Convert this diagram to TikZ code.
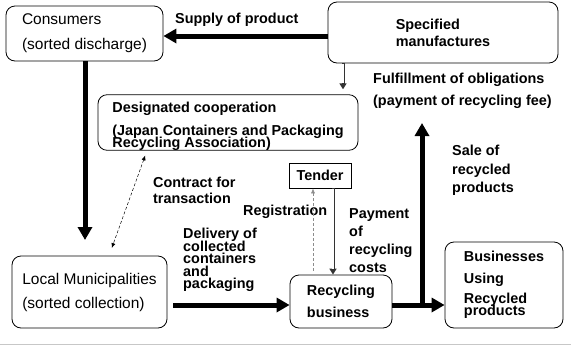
\documentclass[tikz,border=0pt]{standalone}
\usepackage{fontspec}
\setmainfont{Liberation Sans}
\usetikzlibrary{arrows.meta,calc}
\newcommand\mytightlines{\lineskiplimit=-30pt\relax}
\begin{document}
\begin{tikzpicture}[x=1pt,y=-1pt,
  box/.style={draw, rounded corners=9pt, line width=0.8pt, inner sep=0pt, align=left},
  reg/.style={font=\fontsize{15.5}{#1}\selectfont\mytightlines},
  bld/.style={font=\fontsize{14.4}{#1}\selectfont\bfseries\mytightlines},
  lbl/.style={bld=#1, align=left, inner sep=0pt, anchor=north west},
  thickarr/.style={line width=5pt, -{Triangle[length=13pt,width=14pt]}},
  dblout/.style={draw=black!80, line width=3pt, -{Triangle[length=6pt,width=7pt]}},
  dblin/.style={draw=white, line width=1.2pt},
  dasharr/.style={dashed, line width=0.5pt, dash pattern=on 3pt off 2pt},
  tipS/.style={-{Latex[length=5pt,width=4pt]}}
]
\useasboundingbox (0,0) rectangle (571,346);

% boxes
\node[box, reg=25, minimum width=157, minimum height=55] (cons) at (84.5,33.5) {Consumers\\(sorted discharge)};
\node[box, bld=17, minimum width=230, minimum height=61] (spec) at (443,32.5) {Specified\\manufactures};
\node[box, bld=12, minimum width=260, minimum height=55] (desig) at (228,122.5) {\rule{0pt}{17.5pt}Designated cooperation\\[11pt](Japan Containers and Packaging\\Recycling Association)};
\node[draw, line width=0.8pt, bld=17, inner sep=0pt, minimum width=62, minimum height=25] (tender) at (320,175.5) {Tender};
\node[box, reg=24, minimum width=155, minimum height=72] (local) at (89.5,292) {Local Municipalities\\(sorted collection)};
\node[box, bld=22, minimum width=102, minimum height=53] (rec) at (341,301.5) {Recycling\\business};
\node[box, bld=12, minimum width=118, minimum height=86] (bus) at (504,285) {Businesses\\[10pt]Using\\[8pt]Recycled\\products};

% labels
\node[lbl=17] (lsup) at (175,13) {Supply of product};
\node[lbl=22] (lful) at (373,73) {Fulfillment of obligations\\(payment of recycling fee)};
\node[lbl=16] (lcon) at (153,177) {Contract for\\transaction};
\node[lbl=17] (lreg) at (243,205) {Registration};
\node[lbl=18] (lpay) at (349,208) {Payment\\of\\recycling\\costs};
\node[lbl=12.5] (ldel) at (183,228) {Delivery of\\collected\\containers\\and\\packaging};
\node[lbl=18.5] (lsal) at (452,145) {Sale of\\recycled\\products};

% helper coordinates
\coordinate (supy) at (0,36);
\coordinate (c2l) at (85,240);
\coordinate (fx) at (343,0);
\coordinate (regx) at (313,0);
\coordinate (payx) at (333,0);
\coordinate (flowy) at (0,305);
\coordinate (saletip) at (422,123);
\coordinate (ctop) at (147,0);
\coordinate (cbot) at (109,0);

% connectors
\draw[thickarr] (spec.west |- supy) -- (cons.east |- supy);
\draw[thickarr] (cons.south -| c2l) -- (c2l);
\draw[dblout, shorten >=5pt] (spec.south -| fx) -- (desig.north -| fx);
\draw[dblin, shorten <=0.6pt, shorten >=11pt] (spec.south -| fx) -- (desig.north -| fx);
\draw[thickarr, shorten <=6pt] (local.east |- flowy) -- (rec.west |- flowy);
\draw[thickarr] (rec.east |- flowy) -- (bus.west |- flowy);
\draw[thickarr] ([yshift=2.5pt]saletip |- flowy) -- (saletip);
\draw[dasharr, tipS, draw=black!45, shorten <=4pt] (rec.north -| regx) -- (tender.south -| regx);
\draw[dblout] (tender.south -| payx) -- (rec.north -| payx);
\draw[dblin, shorten <=0.6pt, shorten >=6pt] (tender.south -| payx) -- (rec.north -| payx);
\draw[dasharr, {Latex[length=5pt,width=4pt]}-{Latex[length=5pt,width=4pt]}, shorten <=5pt, shorten >=8pt] (ctop |- desig.south) -- (cbot |- local.north);

% bottom rule
\draw[black!22, line width=1.5pt] (0,344.5) -- (571,344.5);
\end{tikzpicture}
\end{document}
